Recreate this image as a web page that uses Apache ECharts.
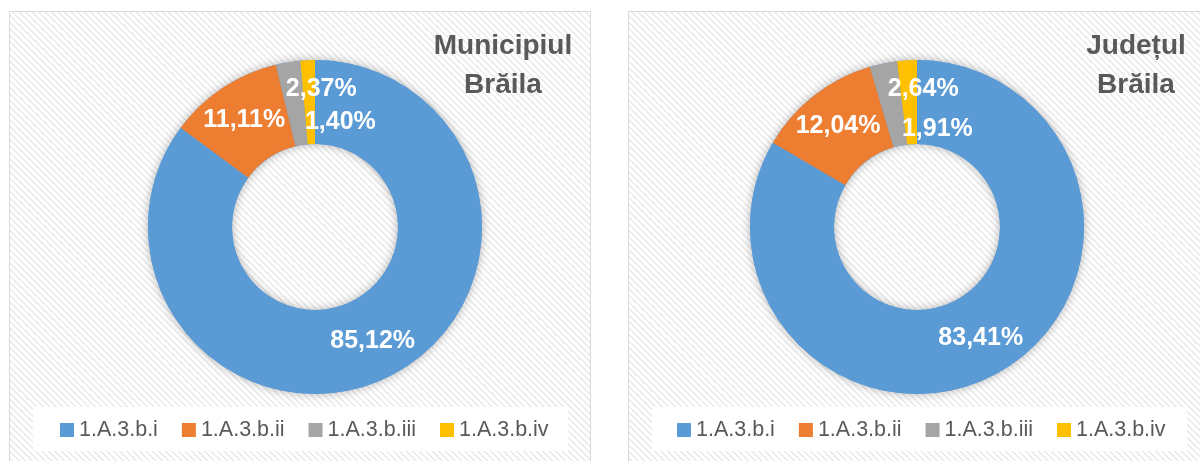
<!DOCTYPE html>
<html>
<head>
<meta charset="utf-8">
<script src="https://cdn.jsdelivr.net/npm/echarts@6/dist/echarts.min.js"></script>
<style>
  body { margin: 0; background: #fff; width: 1200px; height: 461px; overflow: hidden; position: relative; }
  .panel {
    position: absolute;
    top: 11px;
    width: 580px;
    height: 470px;
    border: 1px solid #d9d9d9;
    background: repeating-linear-gradient(45deg, #ffffff 0px, #ffffff 2px, #eaeaea 2.5px, #eaeaea 3.5px, #ffffff 4px, #ffffff 4.6px);
  }
  #municipiu { left: 9px; }
  #judet { left: 628px; }
</style>
</head>
<body>
<div class="panel" id="municipiu"></div>
<div class="panel" id="judet"></div>
<script>
// categorii (legenda)
const categories = ['1.A.3.b.i', '1.A.3.b.ii', '1.A.3.b.iii', '1.A.3.b.iv'];
// ponderi %
const municipiuValues = [85.12, 11.11, 2.37, 1.40];
const judetValues = [83.41, 12.04, 2.64, 1.91];
const municipiuTitle = 'Municipiul\nBrăila';
const judetTitle = 'Județul\nBrăila';

const colorList = ['#5b9bd5', '#ed7d31', '#a5a5a5', '#ffc000'];
const fontFamily = '"Liberation Sans", Arial, sans-serif';

function fmt (v) {
  return v.toFixed(2).replace('.', ',') + '%';
}

/**
 * desenează un inel (donut) cu titlu si legenda
 */
function drawDonut (el, title, values, opts) {
  const myChart = echarts.init(el, null, { renderer: 'canvas' });
  const seriesData = categories.map((name, i) => {
    const item = { name: name, value: values[i] };
    if (opts.labelOffset[i]) {
      item.label = { offset: opts.labelOffset[i] };
    }
    return item;
  });
  const total = values.reduce((a, b) => a + b, 0);
  const center = [opts.centerX, 215];
  const radius = [83, 167];
  const option = {
    color: colorList,
    animation: false,
    graphic: [
      {
        type: 'rect',
        left: 23,
        top: 395,
        shape: { width: 535, height: 44 },
        style: { fill: '#ffffff' },
        z: 0
      },
      {
        type: 'text',
        x: opts.titleX,
        y: 15,
        style: {
          text: title,
          align: 'center',
          verticalAlign: 'top',
          fontSize: 28,
          fontWeight: 'bold',
          fontFamily: fontFamily,
          lineHeight: 39,
          fill: '#595959'
        },
        z: 5
      }
    ],
    legend: {
      data: categories,
      left: opts.legendLeft,
      top: 407,
      padding: 0,
      icon: 'rect',
      itemWidth: 14,
      itemHeight: 14,
      itemGap: 24,
      textStyle: {
        color: '#595959',
        fontSize: 21.5,
        fontFamily: fontFamily
      }
    },
    series: [
      // umbra inelului
      {
        type: 'pie',
        center: center,
        radius: radius,
        silent: true,
        z: 1,
        label: { show: false },
        labelLine: { show: false },
        itemStyle: {
          color: '#5b9bd5',
          shadowBlur: 10,
          shadowColor: 'rgba(0,0,0,0.3)'
        },
        data: [{ name: 'total', value: total }]
      },
      {
        type: 'pie',
        center: center,
        radius: radius,
        startAngle: 90,
        clockwise: true,
        z: 2,
        avoidLabelOverlap: false,
        label: {
          show: true,
          position: 'inside',
          color: '#ffffff',
          fontSize: 25,
          fontWeight: 'bold',
          fontFamily: fontFamily,
          formatter: p => fmt(p.value)
        },
        labelLine: { show: false },
        emphasis: { disabled: true },
        data: seriesData
      }
    ]
  };
  myChart.setOption(option);
  return myChart;
}

drawDonut(document.getElementById('municipiu'), municipiuTitle, municipiuValues, {
  centerX: 305,
  titleX: 493,
  legendLeft: 50,
  labelOffset: [null, null, [27, -12], [31, 23]]
});

drawDonut(document.getElementById('judet'), judetTitle, judetValues, {
  centerX: 288,
  titleX: 507,
  legendLeft: 48,
  labelOffset: [null, null, [32, -13], [28, 30]]
});
</script>
</body>
</html>
